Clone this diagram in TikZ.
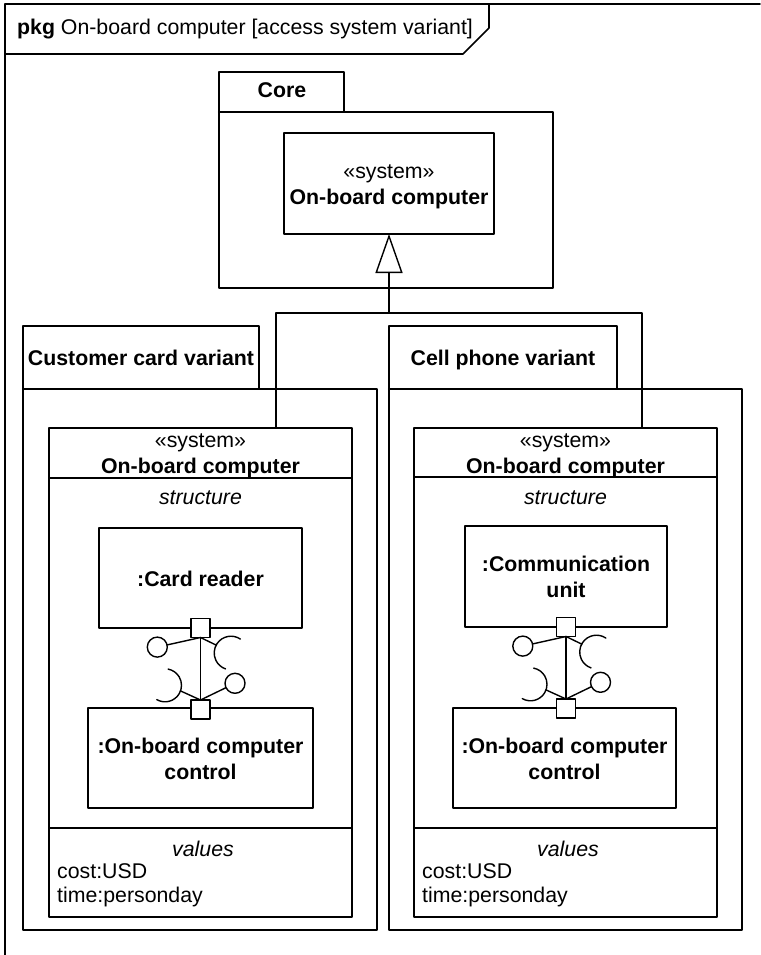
\documentclass[tikz,border=0pt]{standalone}
\usepackage{fontspec}
\setmainfont{Liberation Sans}
\usetikzlibrary{arrows.meta}

% assembly connector between two ports (upper, lower)
\newcommand\assembly[2]{%
  \draw[wire] (#1.south) -- (#2.north);
  \draw[wire] (#1.south) -- ++(-43.2,-9.6) node[lolly] {};
  \draw[wire] (#1.south) -- ++(15.7,-7.6);
  \draw[wire] (#1.south) ++(30.5,-15.5) ++(56:16.8) arc[start angle=56,end angle=251,radius=16.8];
  \draw[wire] (#2.north) -- ++(34.5,16.7) node[lolly] {};
  \draw[wire] (#2.north) -- ++(-20,9.1);
  \draw[wire] (#2.north) ++(-35.5,14.7) ++(-120:16.5) arc[start angle=-120,end angle=79,radius=16.5];
}

\begin{document}
\begin{tikzpicture}[x=1pt,y=1pt,line cap=round,line join=round,
  font=\fontsize{21.3}{26}\selectfont,
  wire/.style={line width=1.4pt},
  box/.style={draw,line width=1.4pt,inner sep=0pt,outer sep=0pt,anchor=north west},
  txt/.style={inner sep=0pt,anchor=base},
  port/.style={draw,fill=white,line width=1.4pt,minimum size=19pt,inner sep=0pt,outer sep=0pt},
  lolly/.style={draw,fill=white,circle,line width=1.4pt,minimum size=20pt,inner sep=0pt}]
  \useasboundingbox (0,0) rectangle (760,-955);
  % frame
  \draw[line width=1.6pt] (5,-955) -- (5,-4) -- (760,-4);
  \draw[line width=1.6pt] (5,-54) -- (463,-54) -- (489,-28) -- (489,-4);
  \node[txt,anchor=base west] (title) at (17,-35) {\textbf{pkg} On-board computer [access system variant]};
  % core package
  \node[box,minimum width=125pt,minimum height=40pt] (coreTab) at (219,-72) {};
  \node[box,minimum width=334pt,minimum height=176pt] (core) at (219,-112) {};
  \draw[line width=2.2pt] (coreTab.south west) -- (coreTab.south east);
  \node[txt] (coreLbl) at (282,-98) {\textbf{Core}};
  \node[box,minimum width=210pt,minimum height=101pt] (coreSys) at (284,-133) {};
  \node[txt] (coreSt) at (389,-178) {«system»};
  \node[txt] (coreNm) at (389,-204) {\textbf{On-board computer}};
  % customer card variant
  \node[box,minimum width=236pt,minimum height=63pt] (ccTab) at (23,-326) {};
  \node[box,minimum width=354pt,minimum height=541pt] (cc) at (23,-389) {};
  \draw[line width=2.2pt] (ccTab.south west) -- (ccTab.south east);
  \node[txt] (ccLbl) at (141,-365) {\textbf{Customer card variant}};
  \node[box,minimum width=303pt,minimum height=489pt] (lsys) at (49,-428) {};
  \draw[wire] (49,-478) -- (352,-478);
  \draw[wire] (49,-828) -- (352,-828);
  \node[txt] (lsysSt) at (200.5,-447) {«system»};
  \node[txt] (lsysNm) at (200.5,-473) {\textbf{On-board computer}};
  \node[txt] (lsysStr) at (200.5,-504) {\itshape structure};
  \node[box,minimum width=203pt,minimum height=100pt] (card) at (99,-528) {};
  \node[txt] (cardLbl) at (200.5,-586) {\textbf{:Card reader}};
  \node[box,minimum width=225pt,minimum height=100pt] (ctlL) at (88,-708) {};
  \node[txt] (ctlL1) at (200.5,-753) {\textbf{:On-board computer}};
  \node[txt] (ctlL2) at (200.5,-779) {\textbf{control}};
  \node[port] (cardP) at (200.5,-628) {};
  \node[port] (ctlLP) at (200.5,-709.5) {};
  \assembly{cardP}{ctlLP}
  \node[txt] (lsysVal) at (203,-856) {\itshape values};
  \node[txt,anchor=base west] (lsysC) at (57,-878) {cost:USD};
  \node[txt,anchor=base west] (lsysT) at (57,-902) {time:personday};
  % cell phone variant
  \node[box,minimum width=228pt,minimum height=63pt] (cpTab) at (389,-326) {};
  \node[box,minimum width=353pt,minimum height=541pt] (cp) at (389,-389) {};
  \draw[line width=2.2pt] (cpTab.south west) -- (cpTab.south east);
  \node[txt] (cpLbl) at (503,-365) {\textbf{Cell phone variant}};
  \node[box,minimum width=303pt,minimum height=489pt] (rsys) at (414,-428) {};
  \draw[wire] (414,-477) -- (717,-477);
  \draw[wire] (414,-828) -- (717,-828);
  \node[txt] (rsysSt) at (565.5,-447) {«system»};
  \node[txt] (rsysNm) at (565.5,-473) {\textbf{On-board computer}};
  \node[txt] (rsysStr) at (565.5,-504) {\itshape structure};
  \node[box,minimum width=202pt,minimum height=101pt] (comm) at (465,-526) {};
  \node[txt] (comm1) at (566,-571) {\textbf{:Communication}};
  \node[txt] (comm2) at (566,-597) {\textbf{unit}};
  \node[box,minimum width=223pt,minimum height=100pt] (ctlR) at (453,-708) {};
  \node[txt] (ctlR1) at (564.5,-753) {\textbf{:On-board computer}};
  \node[txt] (ctlR2) at (564.5,-779) {\textbf{control}};
  \node[port] (commP) at (566,-627) {};
  \node[port] (ctlRP) at (566,-708.5) {};
  \assembly{commP}{ctlRP}
  \node[txt] (rsysVal) at (568,-856) {\itshape values};
  \node[txt,anchor=base west] (rsysC) at (422,-878) {cost:USD};
  \node[txt,anchor=base west] (rsysT) at (422,-902) {time:personday};
  % generalization
  \coordinate (split) at (389,-313);
  \coordinate (gl) at (276,-428);
  \coordinate (gr) at (642,-428);
  \draw[wire] (gl) |- (split) -| (gr);
  \draw[wire,-{Triangle[open,length=39pt,width=27pt]}] (split) -- (coreSys.south);
\end{tikzpicture}
\end{document}
